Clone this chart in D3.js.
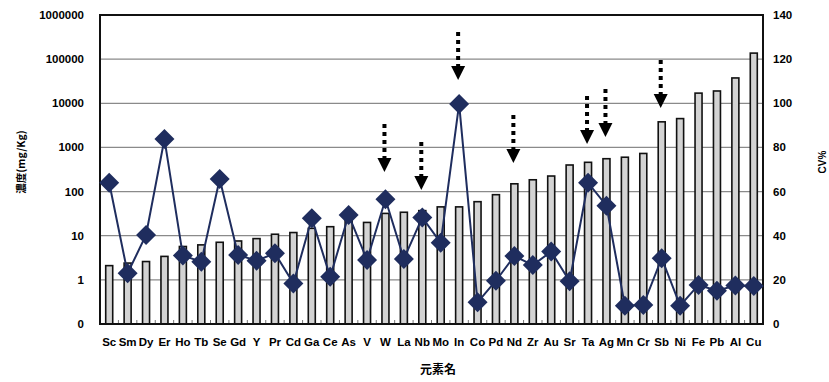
<!DOCTYPE html>
<html>
<head>
<meta charset="utf-8">
<script src="https://cdnjs.cloudflare.com/ajax/libs/d3/7.8.5/d3.min.js"></script>
<style>
  body { margin: 0; background: #fff; }
  text { font-family: "Liberation Sans", Arial, sans-serif; }
  .jp { font-family: "Noto Sans CJK JP", sans-serif; }
</style>
</head>
<body>
<div id="chart"></div>
<script>
// elements on the x axis
var elements = ['Sc','Sm','Dy','Er','Ho','Tb','Se','Gd','Y','Pr','Cd','Ga','Ce','As','V','W','La','Nb','Mo','In',
                'Co','Pd','Nd','Zr','Au','Sr','Ta','Ag','Mn','Cr','Sb','Ni','Fe','Pb','Al','Cu'];

// concentration mg/Kg (left, log axis)
var conc = [2.1,2.4,2.6,3.4,5.7,6.2,7.1,7.6,8.6,10.8,11.8,14.7,16,22,20,32,34,37,45,45,
            59,85,150,185,225,400,460,555,600,730,3800,4500,17000,19000,37500,137000];

// CV% (right axis)
var cv = [64,23,40.3,83.8,31,28.2,65.7,31.3,28.7,32,18.4,47.9,21.4,49.4,29,56.5,29.5,48.3,36.8,99.7,
          9.8,19.6,30.8,26.7,32.8,19.4,64,53.6,8.3,8.6,29.8,8.3,17.7,15.1,17.4,17.2];

// arrow annotations: element + tip height in CV% units
var arrowEls = ['W','Nb','In','Nd','Ta','Ag','Sb'];
var arrowTips = [68.9,60.7,110.6,73,81.6,84.7,97.9];

var leftTicks = [0.1,1,10,100,1000,10000,100000,1000000];
var rightTicks = [0,20,40,60,80,100,120,140];

var width = 829, height = 382;
var pL = 100, pR = 763, pT = 15, pB = 324;
var navy = '#1f2d5e';

var svg = d3.select('#chart').append('svg')
    .attr('width', width)
    .attr('height', height);

var x = d3.scaleBand().domain(elements).range([pL, pR]).padding(0);
var yL = d3.scaleLog().domain([0.1, 1000000]).range([pB, pT]);
var yR = d3.scaleLinear().domain([0, 140]).range([pB, pT]);

// gridlines
svg.append('g').selectAll('line')
  .data(leftTicks.slice(1, -1))
  .enter().append('line')
    .attr('x1', pL).attr('x2', pR)
    .attr('y1', d => yL(d)).attr('y2', d => yL(d))
    .attr('stroke', '#8a8a8a').attr('stroke-width', 1.2);

// bars
var bw = 7;
svg.append('g').selectAll('rect')
  .data(conc)
  .enter().append('rect')
    .attr('x', (d, i) => x(elements[i]) + x.bandwidth() / 2 - bw / 2)
    .attr('y', d => yL(d))
    .attr('width', bw)
    .attr('height', d => yL(0.1) - yL(d))
    .attr('fill', '#d3d3d3')
    .attr('stroke', '#111')
    .attr('stroke-width', 1.6);

// x-axis small ticks at band boundaries
svg.append('g').selectAll('line')
  .data(elements.slice(1))
  .enter().append('line')
    .attr('x1', d => x(d)).attr('x2', d => x(d))
    .attr('y1', pB).attr('y2', pB - 4)
    .attr('stroke', '#777').attr('stroke-width', 1);

// frame
svg.append('rect')
  .attr('x', pL).attr('y', pT)
  .attr('width', pR - pL).attr('height', pB - pT)
  .attr('fill', 'none').attr('stroke', '#111').attr('stroke-width', 2);

// CV line
var line = d3.line()
  .x((d, i) => x(elements[i]) + x.bandwidth() / 2)
  .y(d => yR(d));

svg.append('path')
  .datum(cv)
  .attr('d', line)
  .attr('fill', 'none')
  .attr('stroke', navy)
  .attr('stroke-width', 2);

var diamond = d3.symbol().type(d3.symbolSquare).size(200);
svg.append('g').selectAll('path')
  .data(cv)
  .enter().append('path')
    .attr('d', diamond)
    .attr('transform', (d, i) => 'translate(' + (x(elements[i]) + x.bandwidth() / 2) + ',' + yR(d) + ') rotate(45)')
    .attr('fill', navy);

// arrows
var ag = svg.append('g').selectAll('g')
  .data(arrowEls)
  .enter().append('g')
    .attr('transform', (d, i) => 'translate(' + (x(d) + x.bandwidth() / 2 - 1) + ',' + yR(arrowTips[i]) + ')');

ag.append('line')
  .attr('x1', 0).attr('x2', 0)
  .attr('y1', -48).attr('y2', -13)
  .attr('stroke', '#000')
  .attr('stroke-width', 4)
  .attr('stroke-dasharray', '4,4');

ag.append('path')
  .attr('d', 'M-7,-14 L7,-14 L0,0 Z')
  .attr('fill', '#000');

// left axis labels
svg.append('g').selectAll('text')
  .data(leftTicks)
  .enter().append('text')
    .attr('x', 84)
    .attr('y', d => yL(d) + 4)
    .attr('text-anchor', 'end')
    .attr('font-size', 11.5)
    .attr('font-weight', 'bold')
    .text(d => d === 0.1 ? '0' : d3.format('d')(d));

// right axis labels
svg.append('g').selectAll('text')
  .data(rightTicks)
  .enter().append('text')
    .attr('x', 773)
    .attr('y', d => yR(d) + 4)
    .attr('font-size', 11.5)
    .attr('font-weight', 'bold')
    .text(d => d);

// category labels
svg.append('g').selectAll('text')
  .data(elements)
  .enter().append('text')
    .attr('x', d => x(d) + x.bandwidth() / 2)
    .attr('y', 346)
    .attr('text-anchor', 'middle')
    .attr('font-size', 11.5)
    .attr('font-weight', 'bold')
    .text(d => d);

// axis titles
svg.append('text')
  .attr('class', 'jp')
  .attr('transform', 'translate(25,162) rotate(-90)')
  .attr('text-anchor', 'middle')
  .attr('font-size', 10.5)
  .attr('font-weight', 'bold')
  .text('濃度(mg/Kg)');

svg.append('text')
  .attr('transform', 'translate(826,162) rotate(-90)')
  .attr('text-anchor', 'middle')
  .attr('font-size', 10)
  .attr('font-weight', 'bold')
  .text('CV%');

svg.append('text')
  .attr('class', 'jp')
  .attr('x', 438)
  .attr('y', 374)
  .attr('text-anchor', 'middle')
  .attr('font-size', 12)
  .attr('font-weight', 'bold')
  .text('元素名');
</script>
</body>
</html>
